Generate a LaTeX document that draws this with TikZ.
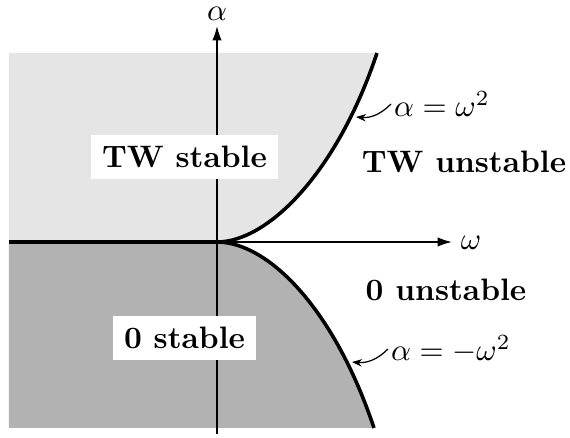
\documentclass[tikz,border=0pt]{standalone}
\usetikzlibrary{arrows.meta}

\tikzset{every picture/.style={line width=0.5pt}}
\tikzset{
  region label/.style={font=\bfseries, inner sep=3.5pt},
  boxed label/.style={region label, fill=white},
  curve line/.style={line width=1.15pt},
  axis arrow/.style={-{Latex[length=4.6pt,width=3pt]}},
  label arrow/.style={-{Stealth[length=3.2pt,width=2.4pt]}, line width=0.4pt}
}

\begin{document}
\begin{tikzpicture}[x=0.3226pt,y=0.3226pt,yscale=-1,xscale=1]
\useasboundingbox (0,0) rectangle (570,438);

%Coordinates
\coordinate (O) at (217,242);
\coordinate (topEnd) at (377,53);
\coordinate (botEnd) at (374,428);
\coordinate (left) at (9,242);
\coordinate (axTop) at (217,26);
\coordinate (axRight) at (452,242);
\coordinate (pTop) at (356,117);
\coordinate (pBot) at (352,362);

%Shape: upper region
\fill [gray!20] (9,53) -- (topEnd) .. controls (337,173) and (267.7,242) .. (O) -- (left) -- cycle ;
%Shape: lower region
\fill [gray!60] (left) -- (O) .. controls (267.7,242) and (334,308) .. (botEnd) -- (9,428) -- cycle ;

%Axes
\draw [axis arrow] (217,434) -- (axTop) ;
\draw [axis arrow] (O) -- (axRight) ;

%Curves
\draw [curve line] (left) -- (O) ;
\draw [curve line] (O) .. controls (267.7,242) and (337,173) .. (topEnd) ;
\draw [curve line] (O) .. controls (267.7,242) and (334,308) .. (botEnd) ;

% Text Node
\node [inner sep=0.75pt] (alpha) at (217,14) {$\alpha$};
% Text Node
\node [inner sep=0.75pt] (omega) at (471,243) {$\omega$};
% Text Node
\node [boxed label] (twStable) at (184.5,157) {TW stable};
% Text Node
\node [boxed label] (zeroStable) at (184.5,338) {0 stable};
% Text Node
\node [region label] (twUnstable) at (464,162) {TW unstable};
% Text Node
\node [region label] (zeroUnstable) at (446,290) {0 unstable};
% Text Node
\node [anchor=west, inner sep=0.75pt] (lblTop) at (391,104) {$\alpha=\omega^2$};
% Text Node
\node [anchor=west, inner sep=0.75pt] (lblBot) at (388,349) {$\alpha=-\omega^2$};

%Label arrows
\draw [label arrow] (lblTop.west) to [bend right=25] (pTop) ;
\draw [label arrow] (lblBot.west) to [bend right=25] (pBot) ;

\end{tikzpicture}
\end{document}
